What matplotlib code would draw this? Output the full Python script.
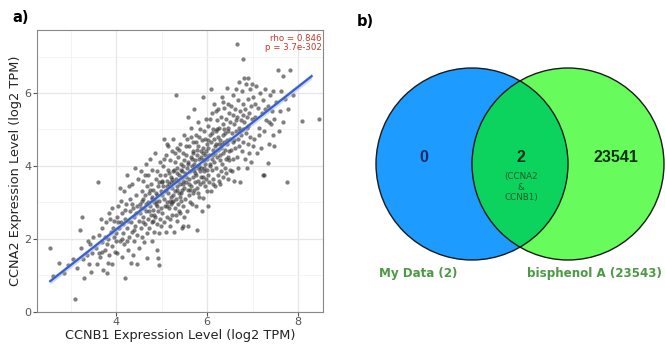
import numpy as np
import matplotlib.pyplot as plt
from matplotlib.patches import Circle

# panel a: CCNB1 vs CCNA2 expression
pts = [
    (2.55,1.74),(2.62,0.98),(2.75,1.33),(2.85,1.05),(2.95,1.28),(3.1,0.35),(3.05,1.45),(3.15,1.2),(3.2,2.24),(3.25,2.59),
    (3.22,1.75),(3.3,0.92),(3.35,1.55),(3.4,1.3),(3.42,1.85),(3.48,1.6),(3.45,1.1),(3.5,2.05),(3.38,1.95),(3.28,1.45),
    (3.55,1.75),(3.58,1.3),(3.61,3.57),(3.62,2.1),(3.65,1.5),(3.68,1.9),(3.7,2.3),(3.72,1.15),(3.75,1.7),(3.78,2.45),
    (3.8,1.05),(3.82,2.0),(3.85,2.7),(3.85,1.55),(3.88,2.2),(3.9,1.8),(3.9,2.85),(3.92,1.3),(3.95,2.5),(3.96,2.05),
    (3.98,1.65),(3.7,1.65),(3.62,1.6),(3.76,2.05),(3.93,2.3),(3.99,1.95),(3.83,1.35),(3.66,2.55),(3.87,2.55),(3.79,1.85),
    (4.0,2.15),(4.02,2.6),(4.03,1.6),(4.05,2.9),(4.06,2.3),(4.08,1.95),(4.1,3.05),(4.1,2.45),(4.12,1.5),(4.14,2.7),
    (4.15,2.15),(4.17,3.3),(4.18,1.85),(4.2,0.92),(4.2,2.55),(4.22,2.95),(4.24,2.3),(4.25,3.75),(4.26,1.7),(4.28,2.05),
    (4.3,2.75),(4.3,3.1),(4.32,2.45),(4.33,1.35),(4.35,2.2),(4.36,3.5),(4.38,2.85),(4.4,1.95),(4.4,2.6),(4.41,3.95),
    (4.42,2.35),(4.44,3.2),(4.45,1.3),(4.46,2.9),(4.47,2.1),(4.48,3.65),(4.5,2.5),(4.5,1.75),(4.05,2.45),(4.13,2.0),
    (4.19,2.8),(4.27,2.5),(4.34,2.95),(4.39,2.25),(4.43,2.7),(4.23,1.95),(4.16,2.4),(4.37,1.55),(4.29,3.45),(4.09,3.4),
    (4.52,2.95),(4.53,2.7),(4.54,3.85),(4.55,2.3),(4.56,3.3),(4.57,2.05),(4.58,3.05),(4.6,2.6),(4.6,3.6),(4.61,1.9),
    (4.62,2.85),(4.63,3.2),(4.64,2.4),(4.65,4.05),(4.66,2.75),(4.67,3.45),(4.68,2.15),(4.69,1.48),(4.7,3.0),(4.7,2.55),
    (4.71,3.75),(4.72,2.3),(4.73,3.25),(4.74,2.9),(4.75,4.2),(4.76,2.65),(4.77,3.5),(4.78,1.95),(4.79,3.1),(4.8,2.45),
    (4.8,3.9),(4.81,2.8),(4.82,3.35),(4.83,2.2),(4.84,3.0),(4.85,4.35),(4.86,2.6),(4.87,3.65),(4.88,2.95),(4.89,1.7),
    (4.9,3.2),(4.9,2.4),(4.91,3.85),(4.92,2.75),(4.93,1.47),(4.93,3.45),(4.94,2.15),(4.95,1.27),(4.95,3.05),(4.96,4.1),
    (4.97,2.55),(4.98,3.3),(4.99,2.85),(5.0,3.6),(4.55,2.85),(4.6,3.1),(4.66,2.95),(4.72,2.75),(4.78,3.15),(4.84,2.65),
    (4.88,3.25),(4.94,3.55),(4.98,2.35),(4.59,2.45),(4.63,3.75),(4.75,3.35),(4.82,2.5),(4.87,3.05),(4.91,2.9),(4.97,3.75),
    (5.01,3.2),(5.02,2.7),(5.03,4.0),(5.04,3.45),(5.05,2.45),(5.05,4.75),(5.06,3.1),(5.07,3.75),(5.08,2.9),(5.09,3.35),
    (5.1,2.2),(5.1,4.3),(5.11,3.6),(5.12,3.0),(5.13,2.6),(5.14,3.9),(5.15,3.25),(5.15,4.55),(5.16,2.85),(5.17,3.5),
    (5.18,2.35),(5.19,4.15),(5.2,3.15),(5.2,3.7),(5.21,2.95),(5.22,4.4),(5.23,3.4),(5.24,2.65),(5.25,3.85),(5.25,3.05),
    (5.26,4.75),(5.27,3.55),(5.28,2.2),(5.29,3.3),(5.3,4.1),(5.3,2.85),(5.31,5.95),(5.31,3.65),(5.32,3.1),(5.33,4.5),
    (5.34,2.5),(5.35,3.45),(5.35,3.95),(5.36,2.95),(5.37,4.25),(5.38,3.25),(5.39,3.75),(5.4,2.7),(5.4,4.6),(5.41,3.5),
    (5.42,3.05),(5.43,4.05),(5.44,2.3),(5.45,3.35),(5.45,3.85),(5.46,2.34),(5.46,4.35),(5.47,3.6),(5.48,2.9),(5.49,4.15),
    (5.5,3.4),(5.5,4.85),(5.02,3.55),(5.07,3.3),(5.11,2.9),(5.16,3.8),(5.21,3.55),(5.26,3.2),(5.28,3.9),(5.33,3.35),
    (5.37,3.6),(5.41,3.15),(5.44,3.7),(5.48,3.5),(5.06,4.2),(5.13,4.6),(5.19,2.55),(5.23,3.0),(5.29,4.35),(5.34,3.8),
    (5.38,2.75),(5.43,3.25),(5.47,4.0),(5.12,3.45),(5.18,3.05),(5.24,3.65),(5.32,2.65),(5.39,4.45),(5.42,3.9),(5.49,2.6),
    (5.51,3.8),(5.52,3.1),(5.53,4.3),(5.54,3.55),(5.55,2.75),(5.55,4.75),(5.56,3.95),(5.57,3.35),(5.58,5.35),(5.59,2.34),
    (5.59,4.1),(5.6,3.65),(5.61,4.55),(5.62,3.0),(5.63,3.85),(5.64,4.25),(5.65,3.45),(5.65,5.05),(5.66,2.95),(5.67,4.0),
    (5.68,3.7),(5.69,4.65),(5.7,3.25),(5.7,4.4),(5.71,3.9),(5.72,5.55),(5.73,3.55),(5.74,4.15),(5.75,2.9),(5.75,4.85),
    (5.76,3.75),(5.77,2.25),(5.77,4.3),(5.78,3.4),(5.79,4.0),(5.8,5.2),(5.8,3.6),(5.81,4.55),(5.82,3.15),(5.83,4.2),
    (5.84,3.85),(5.85,5.0),(5.85,3.5),(5.86,4.4),(5.87,3.95),(5.88,2.75),(5.89,4.7),(5.9,3.7),(5.9,4.15),(5.91,5.9),
    (5.92,3.11),(5.92,4.5),(5.93,3.85),(5.94,4.95),(5.95,3.45),(5.95,4.3),(5.96,4.05),(5.97,5.3),(5.98,3.65),(5.99,4.6),
    (6.0,4.2),(6.0,3.3),(5.53,3.7),(5.57,4.05),(5.61,3.5),(5.66,4.2),(5.71,3.35),(5.74,3.8),(5.78,4.45),(5.82,4.0),
    (5.86,3.7),(5.9,4.35),(5.94,3.95),(5.98,4.4),(5.54,4.55),(5.6,3.2),(5.64,4.8),(5.68,4.35),(5.72,4.05),(5.76,4.65),
    (5.79,3.25),(5.83,4.8),(5.87,4.25),(5.91,3.55),(5.96,4.75),(5.99,3.9),(5.63,3.35),(5.69,3.9),(5.81,3.95),(5.93,4.15),
    (6.01,4.5),(6.02,3.75),(6.03,2.9),(6.03,5.1),(6.04,4.3),(6.05,3.55),(6.06,4.85),(6.07,4.05),(6.08,6.1),(6.08,3.3),
    (6.09,4.65),(6.1,4.2),(6.1,5.45),(6.11,3.9),(6.12,4.45),(6.13,5.0),(6.14,3.65),(6.15,4.75),(6.15,4.1),(6.16,5.7),
    (6.17,4.35),(6.18,3.45),(6.19,4.95),(6.2,4.6),(6.2,3.95),(6.21,5.25),(6.22,4.25),(6.23,3.75),(6.24,4.8),(6.25,5.55),
    (6.25,4.45),(6.26,3.6),(6.27,5.05),(6.28,4.15),(6.29,4.7),(6.3,3.85),(6.3,5.35),(6.31,4.5),(6.32,5.9),(6.33,4.05),
    (6.34,4.85),(6.35,3.7),(6.35,5.15),(6.36,4.35),(6.37,4.65),(6.38,5.6),(6.39,3.95),(6.4,4.9),(6.4,4.45),(6.41,5.3),
    (6.42,3.8),(6.43,4.7),(6.44,6.15),(6.45,4.25),(6.45,5.05),(6.46,3.65),(6.47,4.95),(6.48,5.45),(6.49,4.4),(6.5,4.75),
    (6.5,3.9),(6.02,4.7),(6.06,4.0),(6.11,4.9),(6.14,4.3),(6.18,4.55),(6.22,5.0),(6.26,4.6),(6.29,4.3),(6.33,4.6),
    (6.37,5.0),(6.41,4.2),(6.44,4.6),(6.48,4.15),(6.07,5.3),(6.12,3.5),(6.19,5.5),(6.28,3.5),(6.36,5.75),(6.46,5.7),
    (6.51,5.2),(6.52,4.45),(6.53,5.65),(6.54,3.85),(6.55,4.9),(6.56,5.4),(6.57,4.2),(6.58,5.95),(6.59,4.7),(6.6,5.15),
    (6.6,3.6),(6.61,5.55),(6.62,4.5),(6.63,6.1),(6.64,4.95),(6.65,7.35),(6.65,4.25),(6.66,5.35),(6.67,4.75),(6.68,5.8),
    (6.69,3.95),(6.7,5.05),(6.7,6.3),(6.71,4.55),(6.72,5.5),(6.73,3.57),(6.74,4.85),(6.75,5.25),(6.76,6.05),(6.77,4.4),
    (6.78,6.93),(6.78,5.0),(6.79,5.7),(6.8,4.65),(6.81,6.4),(6.82,5.2),(6.83,4.2),(6.84,5.55),(6.85,6.25),(6.86,4.9),
    (6.87,5.35),(6.88,3.95),(6.89,5.85),(6.9,4.6),(6.9,6.4),(6.91,5.1),(6.92,5.45),(6.93,4.35),(6.94,6.1),(6.95,4.8),
    (6.96,5.65),(6.97,4.1),(6.98,6.25),(6.99,5.3),(7.0,4.55),(6.56,4.65),(6.64,5.25),(6.72,4.95),(6.8,5.4),(6.88,5.05),
    (7.02,5.9),(7.04,4.75),(7.06,5.35),(7.08,6.2),(7.1,4.35),(7.12,5.6),(7.14,5.05),(7.16,6.0),(7.18,4.5),(7.2,5.45),
    (7.22,3.75),(7.23,5.8),(7.25,3.75),(7.26,4.95),(7.28,6.1),(7.3,5.25),(7.33,4.07),(7.34,5.65),(7.36,4.6),(7.38,5.95),
    (7.4,5.15),(7.42,5.5),(7.44,4.85),(7.46,6.05),(7.48,5.3),(7.05,5.7),(7.15,4.85),(7.27,5.55),(7.37,5.2),(7.47,4.55),
    (7.52,5.75),(7.55,6.64),(7.58,4.95),(7.6,5.5),(7.63,6.05),(7.66,5.2),(7.68,6.46),(7.72,5.85),(7.75,3.57),(7.78,5.55),
    (7.82,6.64),(7.9,5.95),(8.08,5.22),(8.47,5.3),
]
ccnb1 = np.array([p[0] for p in pts])
ccna2 = np.array([p[1] for p in pts])
rho_txt = "rho = 0.846\np = 3.7e-302"

# panel b: venn counts
only_mine = 0
shared = 2
only_bpa = 23541
shared_genes = "(CCNA2\n&\nCCNB1)"
set_labels = ["My Data (2)", "bisphenol A (23543)"]

fig = plt.figure(figsize=(6.65, 3.45), dpi=100)
W, H = 665.0, 345.0

# ---- scatter ----
ax = fig.add_axes([37/W, (H-311.7)/H, (323-37)/W, (311.7-30)/H])
ax.set_xlim(2.26, 8.55)
ax.set_ylim(0, 7.73)
ax.set_xticks([4, 6, 8])
ax.set_yticks([0, 2, 4, 6])
ax.set_xticks([3, 5, 7], minor=True)
ax.set_yticks([1, 3, 5, 7], minor=True)
ax.grid(True, which='major', color='#e6e6e6', lw=0.9)
ax.grid(True, which='minor', color='#f2f2f2', lw=0.6)
ax.set_axisbelow(True)
ax.tick_params(which='minor', length=0)
ax.tick_params(which='major', length=3, color='#555555', labelsize=8, labelcolor='#555555', pad=1)
for s in ax.spines.values():
    s.set_color('#888888')
    s.set_linewidth(0.8)

ax.scatter(ccnb1, ccna2, s=9.5, color='#333333', alpha=0.62, lw=0)
k, b = np.polyfit(ccnb1, ccna2, 1)
xs = np.linspace(ccnb1.min(), 8.3, 50)
ax.fill_between(xs, k*xs+b-0.08, k*xs+b+0.08, color='#9fb4e6', alpha=0.5, lw=0)
ax.plot(xs, k*xs+b, color='#3a5fcd', lw=1.6)

ax.text(0.995, 0.985, rho_txt, transform=ax.transAxes, ha='right', va='top',
        fontsize=6.2, color='#c0392b', linespacing=0.95)
ax.set_xlabel("CCNB1 Expression Level (log2 TPM)", fontsize=9.3, color='#222222', labelpad=1)
ax.set_ylabel("CCNA2 Expression Level (log2 TPM)", fontsize=9.3, color='#222222', labelpad=2)

# ---- venn ----
vx = fig.add_axes([330/W, 0, (W-330)/W, 1])
vx.set_xlim(330, W)
vx.set_ylim(H, 0)
vx.axis('off')
c_left = Circle((472, 164), 96, facecolor='#1e9bff', edgecolor='none')
c_right = Circle((568, 164), 96, facecolor='#68fb5c', edgecolor='none')
vx.add_patch(c_left)
vx.add_patch(c_right)
mid = Circle((568, 164), 96, facecolor='#0cd35e', edgecolor='none')
vx.add_patch(mid)
mid.set_clip_path(c_left)
for c in [(472, 164), (568, 164)]:
    vx.add_patch(Circle(c, 96, facecolor='none', edgecolor='#1a1a1a', lw=1.0))

vx.text(424, 158, str(only_mine), ha='center', va='center', fontsize=11.5,
        fontweight='bold', color='#1a2a6a', family='Liberation Sans')
vx.text(521, 158, str(shared), ha='center', va='center', fontsize=11.5,
        fontweight='bold', color='#10301a', family='Liberation Sans')
vx.text(616, 158, str(only_bpa), ha='center', va='center', fontsize=11.5,
        fontweight='bold', color='#10301a', family='Liberation Sans')
vx.text(521, 187, shared_genes, ha='center', va='center', fontsize=6.3,
        color='#1d5a2a', linespacing=1.15)
vx.text(418, 274, set_labels[0], ha='center', va='center', fontsize=8.6,
        fontweight='bold', color='#4c9a44')
vx.text(594, 274, set_labels[1], ha='center', va='center', fontsize=8.6,
        fontweight='bold', color='#4c9a44')

fig.text(12/W, 1-18/H, "a)", fontsize=10.5, fontweight='bold', va='center', ha='left')
fig.text(357/W, 1-21/H, "b)", fontsize=10.5, fontweight='bold', va='center', ha='left')

fig.savefig('out.png', dpi=100)
